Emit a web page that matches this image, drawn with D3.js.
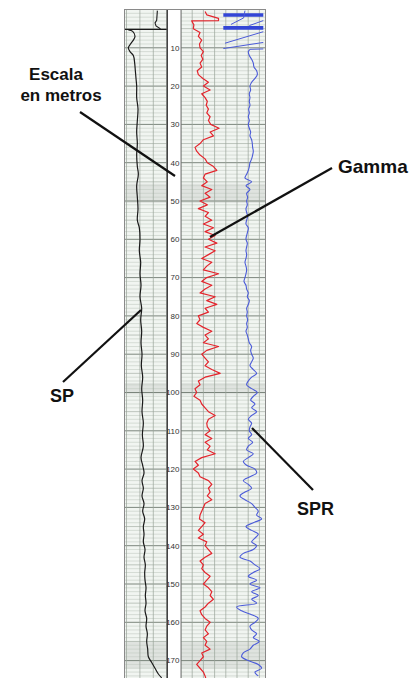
<!DOCTYPE html>
<html><head><meta charset="utf-8">
<script src="https://cdn.jsdelivr.net/npm/d3@7"></script>
<style>body{margin:0;background:#fff}svg{display:block}</style>
</head><body>
<svg id="c" width="411" height="678"></svg>
<script>
// ---------- DATA ----------
const depthTicks = d3.range(10, 171, 10);           // metres shown in depth column
// SP (mV, arbitrary track units) — [depth m, value]
const spTop = [[0.3,97],[2.8,95],[3.5,90],[4.3,93],[5.0,105],[5.2,105]];
const spMarkerDepth = [5.2];
const spMain = [[5.3,10],[5.7,23],[7,30],[8,25],[9.2,15],[10,10],[11,15],[12,25],[14,29],[16,31],[18,33],[20,35],[23,35],[26,39],[29,37],[32,35],[35,37],[38,35],[41,37],[43,40],[46,35],[49,37],[52,39],[55,37],[57,43],[60,45],[63,43],[66,47],[69,45],[72,48],[75,45],[78,50],[81,47],[84,50],[87,48],[90,51],[93,49],[96,53],[99,50],[102,53],[105,51],[108,55],[111,52],[114,55],[117,48],[119,53],[121,57],[123,51],[125,55],[127,51],[129,57],[131,53],[133,59],[135,55],[137,57],[139,55],[141,60],[143,57],[145,61],[147,59],[149,60],[151,63],[153,61],[155,63],[157,60],[159,65],[161,63],[163,67],[165,65],[167,68],[169,70],[170.5,80],[172,90],[173.5,100],[174.5,110]];
// Gamma (API) — [depth m, value]
const gamma = [[0.5,43],[1.4,46],[2.3,67],[2.9,67],[2.95,19],[3.5,21],[4,23],[5,22],[6,34],[7,31],[8,37],[9,33],[10,34],[11,40],[12,36],[13,39],[14,34],[15,37],[16,29],[17,31],[18,39],[19,49],[20,40],[21,52],[22,37],[23,43],[24,47],[25,45],[26,49],[27,46],[28,52],[29,49],[30,53],[31,68],[32,52],[33,58],[34,40],[35,34],[36,25],[37,28],[38,34],[39,43],[40,47],[41,58],[42,64],[43,43],[44,40],[45,47],[46,37],[47,55],[48,43],[49,52],[50,34],[51,47],[52,31],[53,49],[54,43],[55,55],[56,40],[57,58],[58,43],[59,61],[60,49],[61,64],[62,43],[63,61],[64,49],[65,37],[66,55],[67,46],[68,40],[69,67],[70,46],[71,37],[72,55],[73,43],[74,34],[75,61],[76,46],[77,64],[78,43],[79,49],[80,31],[81,34],[82,28],[83,40],[84,55],[85,43],[86,49],[87,40],[88,67],[89,46],[90,37],[91,43],[92,49],[93,43],[94,55],[95,70],[96,43],[97,31],[98,34],[99,25],[100,28],[101,23],[102,34],[103,37],[104,43],[105,49],[106,61],[107,49],[108,46],[109,47],[110,52],[111,43],[112,55],[113,43],[114,52],[115,47],[116,61],[117,37],[118,25],[119,31],[120,22],[121,31],[122,34],[123,49],[124,55],[125,49],[126,52],[127,47],[128,55],[129,43],[130,40],[131,37],[132,34],[133,33],[134,43],[135,37],[136,31],[137,40],[138,31],[139,46],[140,43],[141,49],[142,55],[143,43],[144,34],[145,40],[146,37],[147,43],[148,52],[149,46],[150,40],[151,49],[152,55],[153,52],[154,58],[155,49],[156,43],[157,34],[158,37],[159,43],[160,52],[161,46],[162,43],[163,49],[164,40],[165,46],[166,43],[167,52],[168,37],[169,40],[170,34],[171,28],[172,34],[173,40],[174,43],[175,45]];
// SPR (ohm) — [depth m, value]
const spr = [[10.4,207],[11,202],[12,205],[13,212],[14,217],[15,219],[16,227],[17,229],[18,222],[19,212],[20,207],[21,209],[22,205],[23,207],[24,205],[25,207],[26,203],[27,205],[28,202],[29,205],[30,202],[31,205],[32,209],[33,207],[34,212],[35,214],[36,215],[37,217],[38,215],[39,212],[40,207],[41,205],[42,202],[43,197],[44,192],[45,212],[46,195],[47,207],[48,197],[49,200],[50,197],[51,199],[52,195],[53,197],[54,200],[55,197],[56,195],[57,202],[58,200],[59,197],[60,195],[61,199],[62,197],[63,195],[64,197],[65,195],[66,192],[67,195],[68,197],[69,195],[70,192],[71,189],[72,195],[73,197],[74,202],[75,199],[76,205],[77,202],[78,197],[79,199],[80,197],[81,200],[82,197],[83,199],[84,195],[85,199],[86,202],[87,205],[88,212],[89,209],[90,212],[91,217],[92,212],[93,207],[94,217],[95,227],[96,212],[97,202],[98,197],[99,212],[100,229],[101,217],[102,209],[103,222],[104,212],[105,227],[106,212],[107,202],[108,212],[109,207],[110,205],[111,212],[112,202],[113,215],[114,202],[115,197],[116,217],[117,202],[118,187],[119,197],[120,222],[121,227],[122,207],[123,187],[124,202],[125,212],[126,192],[127,177],[128,192],[129,212],[130,222],[131,232],[132,227],[133,242],[134,217],[135,195],[136,212],[137,232],[138,222],[139,212],[140,227],[141,217],[142,187],[143,177],[144,207],[145,222],[146,237],[147,217],[148,202],[149,227],[150,207],[151,237],[152,212],[153,232],[154,212],[155,227],[156,167],[157,182],[158,212],[159,232],[160,222],[161,207],[162,212],[163,227],[164,217],[165,235],[166,217],[167,207],[168,187],[169,182],[170,202],[171,232],[172,242],[173,222],[174,232]];
const sprBarDepths = [1.45, 4.8];
const sprBarRange = [127, 247];
const sprTopLines = [
  [[0.3,192],[2.2,188],[3.9,150]],
  [[2.9,247],[4.2,205]],
  [[5.8,247],[8.8,132]],
  [[8.6,247],[10.2,127]],
  [[10.3,247],[10.4,207]]
];
const shadeBands = [[45.5,50.5],[97.5,100.5],[165,172]];

// ---------- LAYOUT ----------
const svg = d3.select("#c");
const top0 = 9.5, pxPerM = 3.83;
const y = d3.scaleLinear().domain([0,175]).range([top0, top0 + 175*pxPerM]);
const xSP = d3.scaleLinear().domain([0,125]).range([125,166.7]);
const xGR = d3.scaleLinear().domain([0,150]).range([181,265]);
const xSPR = d3.scaleLinear().domain([0,250]).range([181,264.3]);
const yBottom = 678;

const g = svg.append("g");
// track backgrounds
[[125,166.7],[181,265]].forEach(([a,b])=>{
  g.append("rect").attr("x",a).attr("y",top0).attr("width",b-a).attr("height",yBottom-top0).attr("fill","#f1f5f1");
});
// shading bands
shadeBands.forEach(([d0,d1])=>{
  [[125,166.7],[181,265]].forEach(([a,b])=>{
    g.append("rect").attr("x",a).attr("y",y(d0)).attr("width",b-a).attr("height",y(d1)-y(d0)).attr("fill","#cfd4cf").attr("opacity",0.55);
  });
});
// horizontal grid
const metres = d3.range(1,176);
[[125,166.7],[181,265]].forEach(([a,b])=>{
  g.selectAll(null).data(metres).enter().append("line")
    .attr("x1",a).attr("x2",b).attr("y1",d=>y(d)).attr("y2",d=>y(d))
    .attr("stroke",d=> d%10===0 ? "#6f7a70" : d%5===0 ? "#98a398" : "#c3cbc3")
    .attr("stroke-width",d=> d%10===0 ? 0.9 : 0.6);
});
// vertical grid
const vLeft = d3.range(0,4).map(i=>125+1.5+i*(166.7-126.5)/3);
const vRight = xGR.ticks(6);
g.selectAll(null).data(vLeft).enter().append("line")
  .attr("x1",d=>d).attr("x2",d=>d).attr("y1",top0).attr("y2",yBottom).attr("stroke","#9aa49a").attr("stroke-width",0.7);
g.selectAll(null).data(vRight).enter().append("line")
  .attr("x1",d=>xGR(d)).attr("x2",d=>xGR(d)).attr("y1",top0).attr("y2",yBottom).attr("stroke","#9aa49a").attr("stroke-width",0.7);

// depth column
g.append("rect").attr("x",166.7).attr("y",top0).attr("width",181-166.7).attr("height",yBottom-top0).attr("fill","#fff");
g.append("line").attr("x1",167.2).attr("x2",167.2).attr("y1",top0).attr("y2",yBottom).attr("stroke","#222").attr("stroke-width",1.3);
g.append("line").attr("x1",181).attr("x2",181).attr("y1",top0).attr("y2",yBottom).attr("stroke","#666").attr("stroke-width",0.9);
g.selectAll(null).data(depthTicks).enter().append("text")
  .attr("x",179.5).attr("y",d=>y(d)).attr("dy","0.35em").attr("text-anchor","end")
  .attr("font-family","Liberation Sans, Arial, sans-serif").attr("font-size",8).attr("fill","#333")
  .text(d=>d);

// outer frame
g.append("rect").attr("x",124.5).attr("y",top0).attr("width",141).attr("height",yBottom-top0+5)
  .attr("fill","none").attr("stroke","#8a8a8a").attr("stroke-width",1);

// ---------- CURVES ----------
const lineSP = d3.line().x(d=>xSP(d[1])).y(d=>y(d[0])).curve(d3.curveCatmullRom);
const lineGR = d3.line().x(d=>xGR(d[1])).y(d=>y(d[0]));
const lineSPR = d3.line().x(d=>xSPR(d[1])).y(d=>y(d[0])).curve(d3.curveCatmullRom);
const lineSPRs = d3.line().x(d=>xSPR(d[1])).y(d=>y(d[0]));

// SP
g.append("path").attr("d",d3.line().x(d=>xSP(d[1])).y(d=>y(d[0]))(spTop)).attr("fill","none").attr("stroke","#1a1a1a").attr("stroke-width",1.1);
g.selectAll(null).data(spMarkerDepth).enter().append("line")
  .attr("x1",xSP(0)).attr("x2",xSP(125)).attr("y1",d=>y(d)).attr("y2",d=>y(d)).attr("stroke","#1a1a1a").attr("stroke-width",1.4);
g.append("path").attr("d",lineSP(spMain)).attr("fill","none").attr("stroke","#1a1a1a").attr("stroke-width",1.2);

// Gamma
g.append("path").attr("d",lineGR(gamma)).attr("fill","none").attr("stroke","#e4242c").attr("stroke-width",1.2).attr("stroke-linejoin","round");

// SPR
g.selectAll(null).data(sprBarDepths).enter().append("line")
  .attr("x1",xSPR(sprBarRange[0])).attr("x2",xSPR(sprBarRange[1])).attr("y1",d=>y(d)).attr("y2",d=>y(d))
  .attr("stroke","#3346d6").attr("stroke-width",3.6);
g.selectAll(null).data(sprTopLines).enter().append("path")
  .attr("d",d=>lineSPRs(d)).attr("fill","none").attr("stroke","#4b5bd8").attr("stroke-width",1);
g.append("path").attr("d",lineSPR(spr)).attr("fill","none").attr("stroke","#4b5bd8").attr("stroke-width",1.1);

// ---------- ANNOTATIONS ----------
const font = "Liberation Sans, Arial, Helvetica, sans-serif";
const ann = svg.append("g").attr("font-family",font).attr("font-weight","bold").attr("fill","#111");
ann.append("text").attr("x",56).attr("y",80).attr("text-anchor","middle").attr("font-size",17).text("Escala");
ann.append("text").attr("x",61).attr("y",101).attr("text-anchor","middle").attr("font-size",17).text("en metros");
ann.append("text").attr("x",338).attr("y",173).attr("font-size",19).text("Gamma");
ann.append("text").attr("x",50).attr("y",402).attr("font-size",18).text("SP");
ann.append("text").attr("x",297).attr("y",515).attr("font-size",18).text("SPR");
const leaders = svg.append("g").attr("stroke","#111").attr("stroke-width",2.2);
leaders.append("line").attr("x1",80).attr("y1",112).attr("x2",175).attr("y2",176);
leaders.append("line").attr("x1",332).attr("y1",168).attr("x2",210).attr("y2",237);
leaders.append("line").attr("x1",63).attr("y1",382).attr("x2",141).attr("y2",310);
leaders.append("line").attr("x1",313).attr("y1",490).attr("x2",252).attr("y2",428);
</script>
</body></html>
